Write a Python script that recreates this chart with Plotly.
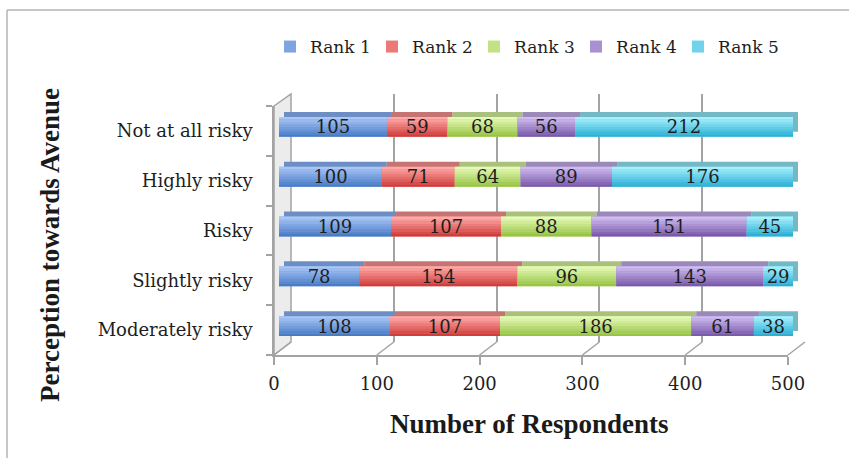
import plotly.graph_objects as go

# Survey responses: perception categories (top to bottom) and counts per rank
categories = ["Not at all risky", "Highly risky", "Risky", "Slightly risky", "Moderately risky"]
rank_names = ["Rank 1", "Rank 2", "Rank 3", "Rank 4", "Rank 5"]
rank1 = [105, 100, 109, 78, 108]
rank2 = [59, 71, 107, 154, 107]
rank3 = [68, 64, 88, 96, 186]
rank4 = [56, 89, 151, 143, 61]
rank5 = [212, 176, 45, 29, 38]
x_ticks = [0, 100, 200, 300, 400, 500]

series = [rank1, rank2, rank3, rank4, rank5]

# face gradient (top, bottom) and top-face colour per rank
palette = [
    ("#a8c6f6", "#4a7cc6", "#6d8ec4"),
    ("#ffaaa8", "#d03e3c", "#c47472"),
    ("#e6fab8", "#98c446", "#a9c17c"),
    ("#cfbcf0", "#7a5aaa", "#9b89ba"),
    ("#a6f0fc", "#2eb0d6", "#74b8c6"),
]

W, H = 849, 458
SERIF = "DejaVu Serif"
TITLE_FONT = dict(family="Liberation Serif", size=27, color="#1a1a1a")
GRID = "#a3a3a3"


def dom_x(a, b):
    return [a / W, b / W]


def dom_y(top, bottom):
    return [1 - bottom / H, 1 - top / H]


def hex_rgb(h):
    h = h.lstrip("#")
    return [int(h[i:i + 2], 16) for i in (0, 2, 4)]


def mix(c1, c2, t):
    a, b = hex_rgb(c1), hex_rgb(c2)
    return "rgb({},{},{})".format(*[round(a[i] + (b[i] - a[i]) * t) for i in range(3)])


# plotting order is bottom-to-top on a category axis
cats = categories[::-1]
vals = [s[::-1] for s in series]
bases = []
run = [0] * len(cats)
for s in vals:
    bases.append(run[:])
    run = [r + v for r, v in zip(run, s)]

# plane geometry (pixels)
FRONT_X, FRONT_Y = (274, 788), (106, 355)
BACK_X, BACK_Y = (291, 805), (94, 342)
BAR_X, BAR_Y = (279, 793), (102, 351)
DEPTH = 5

fig = go.Figure()

# back wall (gridlines live here)
fig.add_trace(go.Scatter(x=[None], y=[None], xaxis="x", yaxis="y",
                         showlegend=False, hoverinfo="skip"))

BAR_W = 0.4
common = dict(orientation="h", hoverinfo="skip")

# top faces of the bars (extruded copy behind the front faces)
for k, s in enumerate(vals):
    fig.add_trace(go.Bar(y=cats, x=s, base=bases[k], width=BAR_W,
                         marker=dict(color=palette[k][2], line=dict(width=0)),
                         xaxis="x2", yaxis="y2", showlegend=False, **common))

# front faces with a vertical gradient
N_BANDS = 8
for k, s in enumerate(vals):
    top, bottom, _ = palette[k]
    fig.add_trace(go.Bar(y=cats, x=s, base=bases[k], width=BAR_W, name=rank_names[k],
                         marker=dict(color=mix(top, bottom, 0.45), line=dict(width=0)),
                         xaxis="x3", yaxis="y3", showlegend=True, **common))
    for b in range(N_BANDS):
        t = b / (N_BANDS - 1)
        fig.add_trace(go.Bar(y=cats, x=s, base=bases[k], width=BAR_W / N_BANDS,
                             offset=BAR_W / 2 - (b + 1) * BAR_W / N_BANDS,
                             marker=dict(color=mix(top, bottom, t), line=dict(width=0)),
                             xaxis="x3", yaxis="y3", showlegend=False, **common))

# value labels
for k, s in enumerate(vals):
    fig.add_trace(go.Bar(y=cats, x=s, base=bases[k], width=BAR_W,
                         marker=dict(color="rgba(0,0,0,0)", line=dict(width=0)),
                         text=[str(v) for v in s], textposition="inside",
                         insidetextanchor="middle", constraintext="none",
                         textfont=dict(family=SERIF, size=18, color="#1e1e1e"),
                         xaxis="x3", yaxis="y3", showlegend=False, **common))

# front plane: tick labels, axis lines
fig.add_trace(go.Scatter(x=[None], y=[None], xaxis="x4", yaxis="y4",
                         showlegend=False, hoverinfo="skip"))

n = len(categories)
fig.update_layout(
    width=W, height=H, autosize=False,
    margin=dict(l=0, r=0, t=0, b=0, autoexpand=False),
    paper_bgcolor="white", plot_bgcolor="rgba(0,0,0,0)",
    barmode="overlay",
    showlegend=True,
    legend=dict(orientation="h", x=270 / W, xanchor="left", y=1 - 47 / H, yanchor="middle",
                font=dict(family=SERIF, size=17, color="#1e1e1e"),
                entrywidth=57, entrywidthmode="pixels",
                bgcolor="rgba(0,0,0,0)", traceorder="normal"),
    xaxis=dict(domain=dom_x(*BACK_X), range=[0, 500], tickvals=x_ticks, showgrid=True,
               gridcolor=GRID, gridwidth=1.5, showticklabels=False, ticks="",
               zeroline=False, showline=False, anchor="y", automargin=False),
    yaxis=dict(domain=dom_y(*BACK_Y), range=[0, 1], visible=False, anchor="x",
               automargin=False),
    xaxis2=dict(domain=dom_x(BAR_X[0] + DEPTH, BAR_X[1] + DEPTH), range=[0, 500],
                visible=False, anchor="y2", automargin=False),
    yaxis2=dict(domain=dom_y(BAR_Y[0] - DEPTH, BAR_Y[1] - DEPTH), range=[-0.5, n - 0.5],
                type="category", categoryorder="array", categoryarray=cats,
                visible=False, anchor="x2", automargin=False),
    xaxis3=dict(domain=dom_x(*BAR_X), range=[0, 500], visible=False, anchor="y3",
                automargin=False),
    yaxis3=dict(domain=dom_y(*BAR_Y), range=[-0.5, n - 0.5],
                type="category", categoryorder="array", categoryarray=cats,
                visible=False, anchor="x3", automargin=False),
    xaxis4=dict(domain=dom_x(*FRONT_X), range=[0, 500], tickvals=x_ticks,
                ticks="outside", ticklen=8, tickwidth=1.5, tickcolor=GRID,
                ticklabelstandoff=4,
                showline=True, linecolor=GRID, linewidth=1.5, showgrid=False, zeroline=False,
                tickfont=dict(family=SERIF, size=18, color="#1e1e1e"), anchor="y4",
                automargin=False),
    yaxis4=dict(domain=dom_y(*FRONT_Y), range=[-0.5, n - 0.5],
                tickvals=list(range(n)), ticktext=cats, ticks="", ticklabelstandoff=16,
                minor=dict(tickvals=[i - 0.5 for i in range(n + 1)], ticks="outside",
                           ticklen=6, tickwidth=1.5, tickcolor=GRID),
                showline=True, linecolor=GRID, linewidth=1.5, showgrid=False, zeroline=False,
                tickfont=dict(family=SERIF, size=18, color="#1e1e1e"), anchor="x4",
                automargin=False),
)

# 3-D frame pieces: left wall, connectors from front ticks to the back wall
def px(xp, yp):
    return xp / W, 1 - yp / H

shapes = []
wall = "M {} {} L {} {} L {} {} L {} {} Z".format(
    *px(FRONT_X[0], FRONT_Y[0]), *px(BACK_X[0], BACK_Y[0]),
    *px(BACK_X[0], BACK_Y[1]), *px(FRONT_X[0], FRONT_Y[1]))
shapes.append(dict(type="path", path=wall, xref="paper", yref="paper",
                   fillcolor="#ececec", line=dict(color=GRID, width=1.5), layer="below"))
for v in x_ticks:
    fx = FRONT_X[0] + v / 500 * (FRONT_X[1] - FRONT_X[0])
    bx = BACK_X[0] + v / 500 * (BACK_X[1] - BACK_X[0])
    x0, y0 = px(fx, FRONT_Y[1])
    x1, y1 = px(bx, BACK_Y[1])
    shapes.append(dict(type="line", xref="paper", yref="paper", x0=x0, y0=y0, x1=x1, y1=y1,
                       line=dict(color=GRID, width=1.5), layer="below"))

# outer border (left and top edges)
bx0, by0 = px(7, H)
bx1, by1 = px(7, 10)
shapes.append(dict(type="line", xref="paper", yref="paper", x0=bx0, y0=by0, x1=bx1, y1=by1,
                   line=dict(color="#b4b4b4", width=1.5)))
shapes.append(dict(type="line", xref="paper", yref="paper", x0=bx1, y0=by1, x1=1, y1=by1,
                   line=dict(color="#b4b4b4", width=1.5)))
fig.update_layout(shapes=shapes)

# axis titles
fig.add_annotation(text="<b>Number of Respondents</b>", xref="paper", yref="paper",
                   x=529 / W, y=1 - 424 / H, showarrow=False, font=TITLE_FONT,
                   xanchor="center", yanchor="middle")
fig.add_annotation(text="<b>Perception towards Avenue</b>", xref="paper", yref="paper",
                   x=50 / W, y=1 - 245 / H, showarrow=False, font=TITLE_FONT, textangle=-90,
                   xanchor="center", yanchor="middle")

fig.write_html("out.html")
